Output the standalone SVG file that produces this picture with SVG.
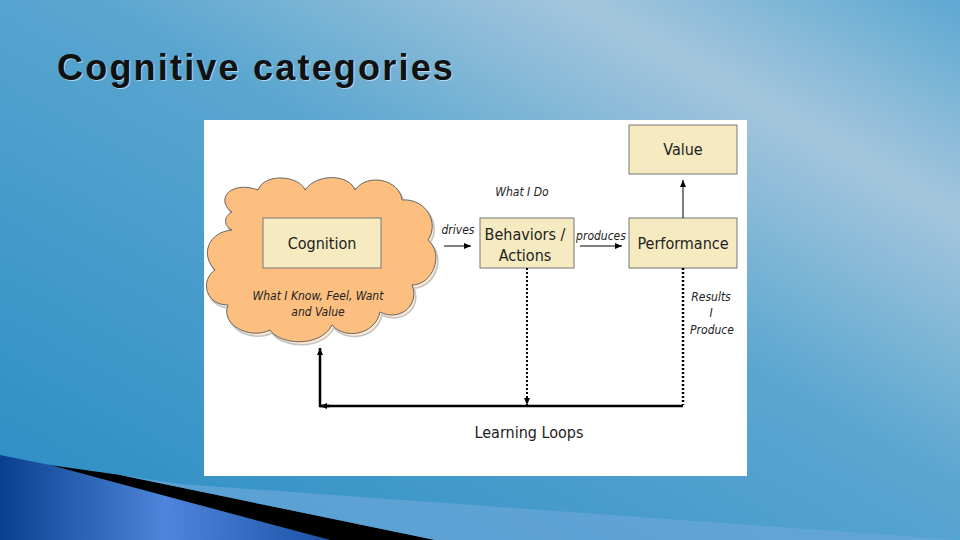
<svg xmlns="http://www.w3.org/2000/svg" width="960" height="540" viewBox="0 0 960 540">
<defs>
<linearGradient id="bg" x1="0" y1="1" x2="1" y2="0">
<stop offset="0" stop-color="#2a8cc4"/><stop offset="0.55" stop-color="#5aa6d0"/><stop offset="0.8" stop-color="#a4c6dc"/><stop offset="1" stop-color="#5da8d2"/>
</linearGradient>
<linearGradient id="wedge" x1="0" y1="0" x2="1" y2="0">
<stop offset="0" stop-color="#0a3f8e"/><stop offset="0.5" stop-color="#4f86db"/><stop offset="1" stop-color="#1b52a8"/>
</linearGradient>
<marker id="ah" markerWidth="8" markerHeight="8" refX="7" refY="4" orient="auto" markerUnits="userSpaceOnUse"><path d="M0,1 L7,4 L0,7 Z" fill="#000"/></marker>
<style>
.box{fill:#f6eac0;stroke:#777;stroke-width:1}
.lbl{font-family:"DejaVu Sans Condensed","Liberation Sans",sans-serif;fill:#222;text-anchor:middle}
.it{font-family:"DejaVu Sans Condensed","Liberation Sans",sans-serif;font-style:italic;fill:#222;text-anchor:middle;font-size:12px}
.ln{stroke:#000;fill:none}
.ttl{font-family:"Liberation Sans",Arial,sans-serif;font-weight:bold;font-size:36px;letter-spacing:2.2px}
</style>
</defs>
<rect width="960" height="540" fill="url(#bg)"/>
<polygon points="0,455 50,465 330,540 0,540" fill="url(#wedge)"/>
<polygon points="50,465 120,475 435,540 330,540" fill="#000"/>
<polygon points="120,475 180,484 960,540 435,540" fill="#6aa6d8" opacity="0.7"/>
<text class="ttl" x="57" y="80" fill="#fff" opacity="0.5" transform="translate(1,1)">Cognitive categories</text>
<text class="ttl" x="57" y="80" fill="#111">Cognitive categories</text>
<rect x="204" y="120" width="543" height="356" fill="#fff"/>
<g id="cloud">
<path d="M232,212 C215,200 230,180 258,190 C265,172 300,176 305,190 C318,172 350,175 355,190 C368,172 400,180 402,200 C425,198 440,222 428,240 C445,255 432,285 412,285 C420,305 400,322 380,312 C375,335 345,340 332,325 C320,348 280,345 270,330 C250,340 220,325 228,305 C205,305 200,280 215,270 C200,255 208,232 232,230 C222,225 225,215 232,212 Z" fill="#fcbf80" stroke="#555" stroke-width="1.5" transform="translate(2,3)" opacity="0.35"/>
<path d="M232,212 C215,200 230,180 258,190 C265,172 300,176 305,190 C318,172 350,175 355,190 C368,172 400,180 402,200 C425,198 440,222 428,240 C445,255 432,285 412,285 C420,305 400,322 380,312 C375,335 345,340 332,325 C320,348 280,345 270,330 C250,340 220,325 228,305 C205,305 200,280 215,270 C200,255 208,232 232,230 C222,225 225,215 232,212 Z" fill="#fcbf80" stroke="#666" stroke-width="1"/>
<text class="it" x="318" y="300">What I Know, Feel, Want</text>
<text class="it" x="318" y="316">and Value</text>
</g>
<g id="cognition"><rect class="box" x="263" y="218" width="118" height="50"/><text class="lbl" x="322" y="249" font-size="16">Cognition</text></g>
<g id="behaviors"><rect class="box" x="480" y="218" width="94" height="50"/><text class="lbl" x="525" y="240" font-size="16">Behaviors /</text><text class="lbl" x="525" y="261" font-size="16">Actions</text></g>
<g id="performance"><rect class="box" x="629" y="218" width="108" height="50"/><text class="lbl" x="683" y="249" font-size="16">Performance</text></g>
<g id="value"><rect class="box" x="629" y="125" width="108" height="49"/><text class="lbl" x="683" y="155" font-size="16">Value</text></g>
<g id="connectors">
<line class="ln" x1="444" y1="246" x2="471" y2="246" marker-end="url(#ah)"/>
<line class="ln" x1="580" y1="246" x2="622" y2="246" marker-end="url(#ah)"/>
<line class="ln" x1="683" y1="218" x2="683" y2="180" marker-end="url(#ah)"/>
<line class="ln" x1="527" y1="268" x2="527" y2="405" stroke-width="2" stroke-dasharray="2,2" marker-end="url(#ah)"/>
<line class="ln" x1="683" y1="268" x2="683" y2="405" stroke-width="2.5" stroke-dasharray="2,2"/>
<polyline class="ln" points="683,406 320,406 320,348" stroke-width="2.5" marker-end="url(#ah)"/>
<line class="ln" x1="330" y1="406" x2="320" y2="406" stroke-width="2.5" marker-end="url(#ah)"/>
<text class="it" x="458" y="234">drives</text>
<text class="it" x="601" y="240">produces</text>
<text class="it" x="522" y="196">What I Do</text>
<text class="it" x="711" y="301">Results</text>
<text class="it" x="711" y="317">I</text>
<text class="it" x="712" y="334">Produce</text>
<text class="lbl" x="529" y="438" font-size="16">Learning Loops</text>
</g>
</svg>
